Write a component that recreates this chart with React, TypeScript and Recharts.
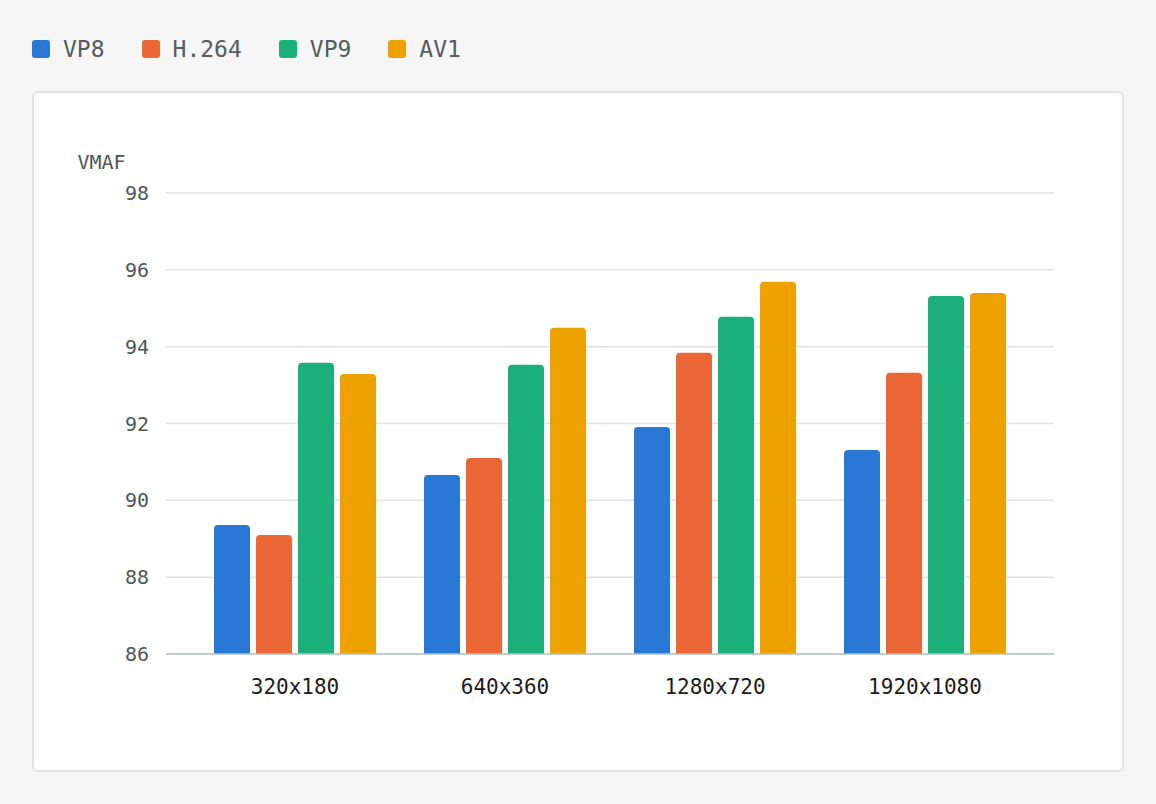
import { BarChart, Bar, XAxis, YAxis, CartesianGrid } from 'recharts'

const resolutions = ['320x180', '640x360', '1280x720', '1920x1080']
const vp8 = [89.36, 90.66, 91.91, 91.31]
const h264 = [89.1, 91.1, 93.84, 93.32]
const vp9 = [93.58, 93.53, 94.78, 95.32]
const av1 = [93.29, 94.49, 95.69, 95.4]
const yTicks = [86, 88, 90, 92, 94, 96, 98]

const series = [
  { key: 'vp8', name: 'VP8', color: '#2a78d6', values: vp8 },
  { key: 'h264', name: 'H.264', color: '#eb6836', values: h264 },
  { key: 'vp9', name: 'VP9', color: '#1bb07a', values: vp9 },
  { key: 'av1', name: 'AV1', color: '#eda200', values: av1 },
]

const data = resolutions.map((res, i) => {
  const row: Record<string, string | number> = { res }
  series.forEach((s) => { row[s.key] = s.values[i] })
  return row
})

const mono = '"DejaVu Sans Mono", monospace'

export default function App() {
  return (
    <div style={{ position: 'absolute', left: 0, top: 0, width: 1156, height: 804, background: '#f5f6f5', fontFamily: mono }}>
      <div style={{ position: 'absolute', left: 32, top: 36, display: 'flex', alignItems: 'center' }}>
        {series.map((s) => (
          <div key={s.key} style={{ display: 'flex', alignItems: 'center', marginRight: 37 }}>
            <span style={{ width: 18, height: 18, borderRadius: 3, background: s.color, display: 'inline-block', marginRight: 13 }} />
            <span style={{ fontSize: 23, color: '#555d5d' }}>{s.name}</span>
          </div>
        ))}
      </div>
      <div style={{
        position: 'absolute', left: 32, top: 91, width: 1088, height: 677,
        background: '#fff', border: '2px solid #dfe3e3', borderRadius: 6,
      }} />
      <div style={{ position: 'absolute', left: 33, top: 92 }}>
        <BarChart
          width={1090}
          height={679}
          data={data}
          margin={{ top: 101, right: 69, bottom: 67, left: 0 }}
          barSize={36}
          barGap={6}
        >
          <CartesianGrid vertical={false} stroke="#dfe3e3" strokeWidth={1.5} />
          <XAxis
            dataKey="res"
            padding={{ left: 24, right: 24 }}
            height={50}
            tickLine={false}
            tickMargin={19}
            axisLine={{ stroke: '#b9c3c3', strokeWidth: 1.5 }}
            tick={{ fontSize: 21, fill: '#1c1c1c', fontFamily: mono }}
          />
          <YAxis
            width={133}
            domain={[86, 98]}
            ticks={yTicks}
            axisLine={false}
            tickLine={false}
            tickMargin={11}
            tick={{ fontSize: 20, fill: '#4f5858', fontFamily: mono }}
            label={{ value: 'VMAF', position: 'top', offset: 24, dx: 2, fontSize: 20, fill: '#4f5858', fontFamily: mono }}
          />
          {series.map((s) => (
            <Bar key={s.key} dataKey={s.key} name={s.name} fill={s.color} radius={[4, 4, 0, 0]} isAnimationActive={false} />
          ))}
        </BarChart>
      </div>
    </div>
  )
}
